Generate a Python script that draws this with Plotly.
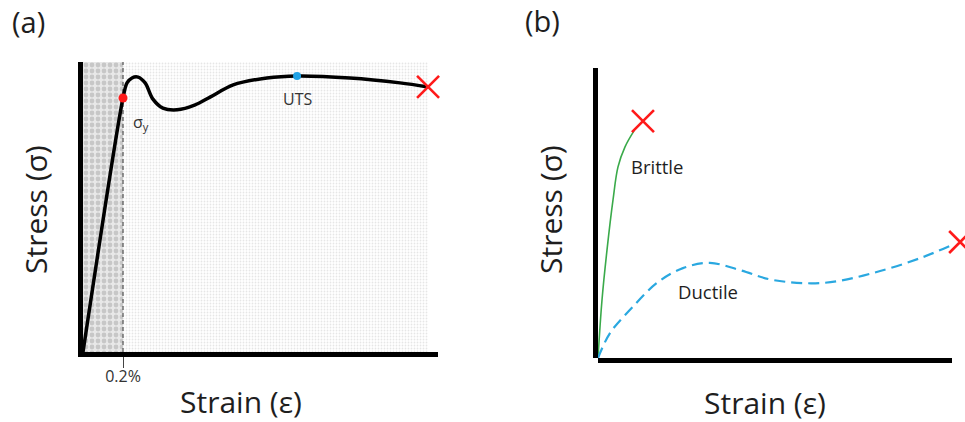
import plotly.graph_objects as go

W, H = 965, 422

# ---------------- Panel (a): schematic stress-strain curve ----------------
a_strain = [0, 11.27, 12.4, 13.8, 15.5, 17.5, 19.7, 22.5, 26.5, 31.6, 35.8, 42.3, 51.8, 60.3, 75.2, 89.3, 97.2]
a_stress = [0, 87.6, 92.8, 94.5, 94.8, 92.8, 87.2, 84.1, 83.5, 85.2, 87.9, 92.1, 94.5, 95.2, 94.5, 92.8, 91.4]
yield_strain, yield_stress = 11.27, 87.6
uts_strain, uts_stress = 60.3, 95.2
a_break_strain, a_break_stress = 97.2, 91.4
a_top = 100
yield_tick_label = "0.2%"

# ---------------- Panel (b): brittle vs ductile ----------------
brittle_strain = [0, 1.13, 2.54, 4.24, 5.65, 7.63, 10.17]
brittle_stress = [0, 20.0, 37.2, 54.5, 65.9, 72.8, 78.3]
brittle_break = (12.7, 81.7)
ductile_strain = [0, 3.39, 9.04, 16.67, 24.0, 31.6, 40.1, 49.4, 63.6, 77.7, 91.8, 100.0]
ductile_stress = [0, 8.6, 16.6, 25.9, 31.0, 32.8, 30.3, 26.9, 25.9, 29.3, 34.8, 39.0]
ductile_break = (102.3, 40.0)
b_axis_end = 100.0

FONT = "Open Sans"
TXT = "#1e1e1e"

def px_x(p):
    return p / W

def px_y(p):
    return 1 - p / H

fig = go.Figure()

# shaded regions (a)
fig.add_trace(go.Scatter(
    x=[0, yield_strain, yield_strain, 0], y=[0, 0, a_top, a_top],
    fill="toself", mode="lines", line=dict(width=0),
    fillcolor="#e8e8e8",
    fillpattern=dict(shape=".", fgcolor="#a6a6a6", bgcolor="#e8e8e8", size=6, solidity=0.5),
    xaxis="x", yaxis="y", hoverinfo="skip", showlegend=False))
fig.add_trace(go.Scatter(
    x=[yield_strain, a_break_strain, a_break_strain, yield_strain], y=[0, 0, a_top, a_top],
    fill="toself", mode="lines", line=dict(width=0),
    fillcolor="#ffffff",
    fillpattern=dict(shape=".", fgcolor="#cdcdcd", bgcolor="#ffffff", size=3, solidity=0.3),
    xaxis="x", yaxis="y", hoverinfo="skip", showlegend=False))
# 0.2% offset line
fig.add_trace(go.Scatter(
    x=[yield_strain, yield_strain], y=[0, a_top], mode="lines",
    line=dict(color="#555555", width=1.2, dash="4px,3px"),
    xaxis="x", yaxis="y", hoverinfo="skip", showlegend=False))
# curve
fig.add_trace(go.Scatter(
    x=a_strain, y=a_stress, mode="lines",
    line=dict(color="black", width=3.5, shape="spline", smoothing=0.9),
    xaxis="x", yaxis="y", showlegend=False))
# yield point, UTS, fracture
fig.add_trace(go.Scatter(
    x=[yield_strain], y=[yield_stress], mode="markers",
    marker=dict(color="#ff1a1a", size=9), xaxis="x", yaxis="y", showlegend=False, cliponaxis=False))
fig.add_trace(go.Scatter(
    x=[uts_strain], y=[uts_stress], mode="markers",
    marker=dict(color="#1fa2e6", size=8), xaxis="x", yaxis="y", showlegend=False, cliponaxis=False))
fig.add_trace(go.Scatter(
    x=[a_break_strain], y=[a_break_stress], mode="markers",
    marker=dict(symbol="x-thin", size=22, line=dict(color="#ff1a1a", width=2.6)),
    xaxis="x", yaxis="y", showlegend=False, cliponaxis=False))

# panel (b)
fig.add_trace(go.Scatter(
    x=brittle_strain, y=brittle_stress, mode="lines",
    line=dict(color="#3aaa4a", width=1.6, shape="spline"),
    xaxis="x2", yaxis="y2", showlegend=False))
fig.add_trace(go.Scatter(
    x=ductile_strain, y=ductile_stress, mode="lines",
    line=dict(color="#2aa8e0", width=2.2, shape="spline", dash="11px,6px"),
    xaxis="x2", yaxis="y2", showlegend=False))
fig.add_trace(go.Scatter(
    x=[brittle_break[0], ductile_break[0]], y=[brittle_break[1], ductile_break[1]], mode="markers",
    marker=dict(symbol="x-thin", size=22, line=dict(color="#ff1a1a", width=2.6)),
    xaxis="x2", yaxis="y2", showlegend=False, cliponaxis=False))

axis_common = dict(showgrid=False, zeroline=False, showline=True, linewidth=5, linecolor="black",
                   fixedrange=True)

# panel b: data 0..100 spans px 598..952; the domain runs to the page edge so the
# fracture cross beyond the axis end stays visible
b_px0, b_px100 = 598, 952
b_range_max = 100 * (W - b_px0) / (b_px100 - b_px0)

fig.update_layout(
    width=W, height=H,
    margin=dict(l=0, r=0, t=0, b=0),
    paper_bgcolor="white", plot_bgcolor="white",
    font=dict(family=FONT, color=TXT),
    xaxis=dict(domain=[px_x(83), px_x(438)], range=[0, 100], anchor="y",
               tickmode="array", tickvals=[yield_strain], ticktext=[yield_tick_label],
               ticks="outside", ticklen=11, tickwidth=1.2, tickcolor="#444444",
               ticklabelstandoff=-5,
               tickfont=dict(size=16, color="#333333", family=FONT), **axis_common),
    yaxis=dict(domain=[px_y(352), px_y(62)], range=[0, 100], anchor="x",
               showticklabels=False, ticks="", **axis_common),
    xaxis2=dict(domain=[px_x(b_px0), 1.0], range=[0, b_range_max], anchor="y2",
                showticklabels=False, ticks="", showgrid=False, zeroline=False,
                showline=False, fixedrange=True),
    yaxis2=dict(domain=[px_y(358), px_y(68)], range=[0, 100], anchor="x2",
                showticklabels=False, ticks="", **axis_common),
    shapes=[dict(type="line", xref="x2", yref="paper",
                 x0=-5 / ((b_px100 - b_px0) / 100), x1=b_axis_end,
                 y0=px_y(360.5), y1=px_y(360.5),
                 line=dict(color="black", width=5))],
)

def note(text, x, y, size, xref="paper", yref="paper", color=TXT, angle=0):
    return dict(text=text, x=x, y=y, xref=xref, yref=yref, xanchor="center", yanchor="middle",
                textangle=angle, showarrow=False, font=dict(size=size, color=color, family=FONT))

ann = []
ann.append(note("(a)", px_x(28), px_y(21), 29))
ann.append(note("(b)", px_x(542), px_y(20), 29))
for cx, cy in [(36, 210), (551, 210)]:
    ann.append(note("Stress (σ)", px_x(cx), px_y(cy), 30, angle=-90))
for cx, cy in [(241, 401), (765, 402)]:
    ann.append(note("Strain (ε)", px_x(cx), px_y(cy), 30))
ann.append(note("σ<sub>y</sub>", 16.2, 79.0, 16, "x", "y", "#333333"))
ann.append(note("UTS", uts_strain, 87.2, 16, "x", "y", "#333333"))
ann.append(note("Brittle", 16.7, 65.9, 18.5, "x2", "y2"))
ann.append(note("Ductile", 31.1, 23.1, 18.5, "x2", "y2"))
fig.update_layout(annotations=ann)

fig.write_html("out.html", config={"displayModeBar": False},
               post_script="document.body.style.margin='0';document.body.style.padding='0';")
